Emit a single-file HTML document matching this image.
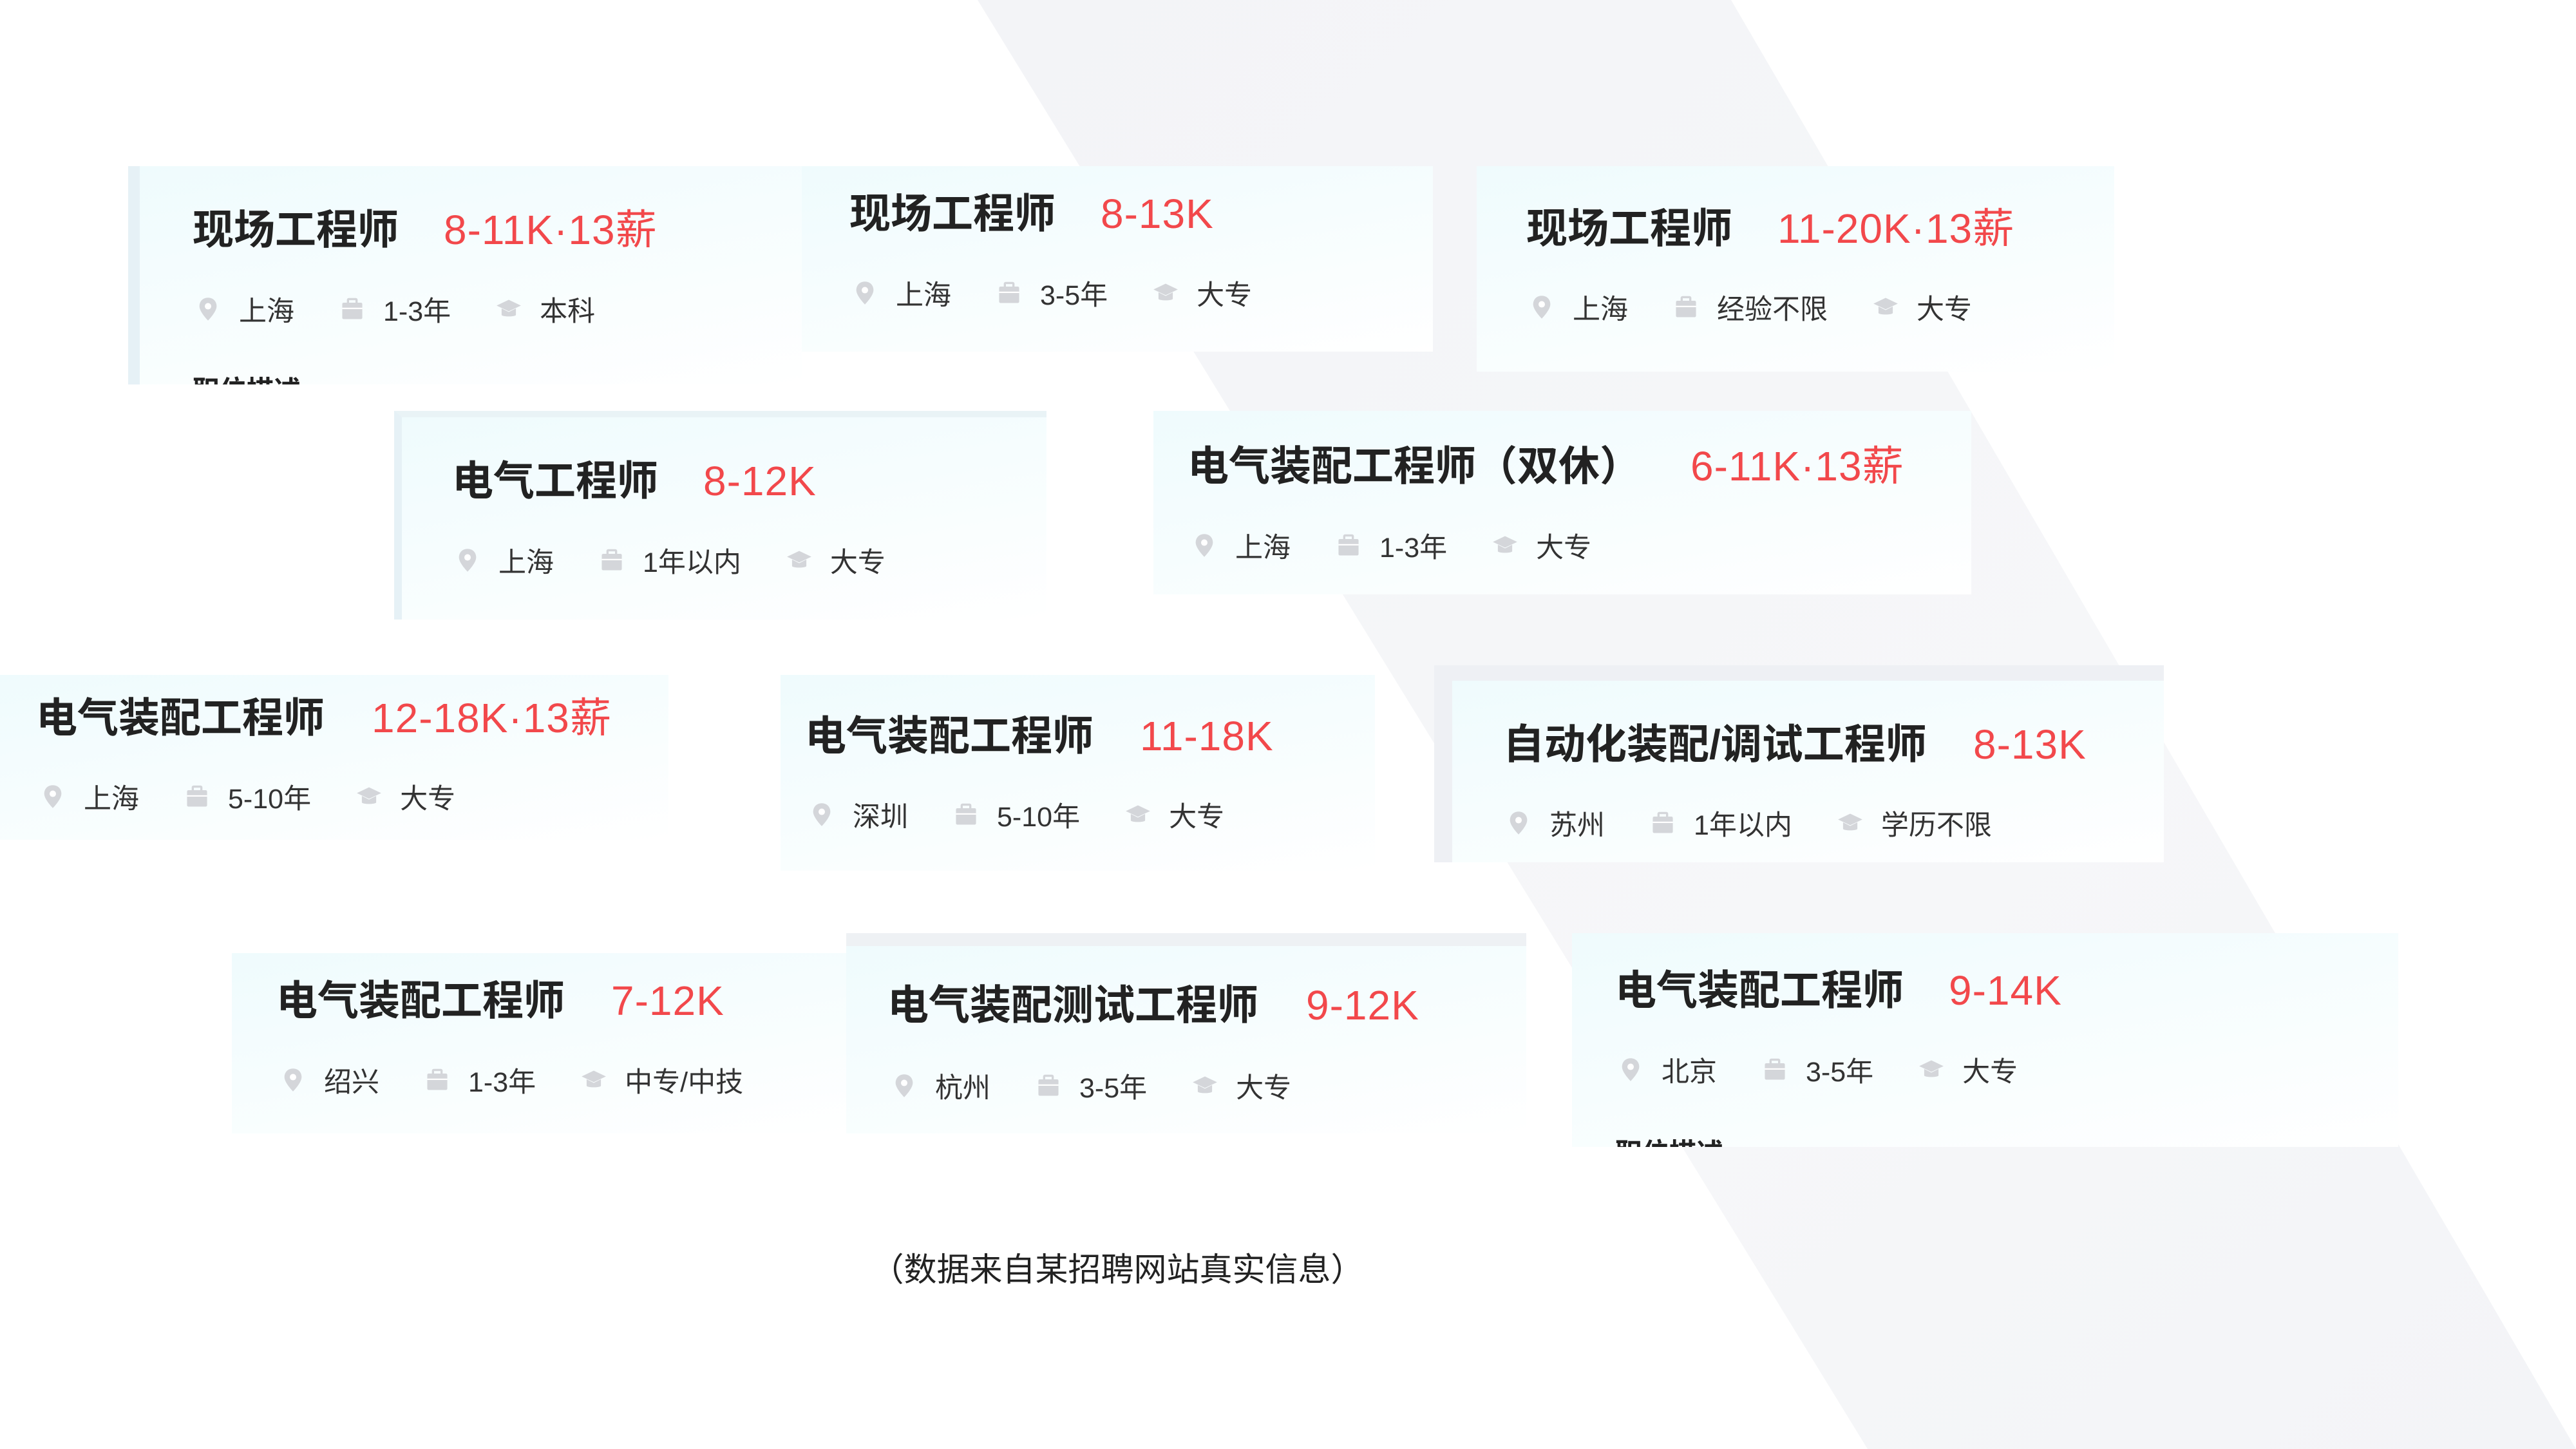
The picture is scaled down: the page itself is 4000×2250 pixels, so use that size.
<!DOCTYPE html>
<html><head><meta charset="utf-8">
<style>
*{margin:0;padding:0;box-sizing:border-box}
body{width:4000px;height:2250px;position:relative;overflow:hidden;background:#fff;font-family:"Liberation Sans","Noto Sans CJK SC",sans-serif}
.bg{position:absolute;left:0;top:0}
.card{position:absolute;background:linear-gradient(170deg,#effbfd 0%,#f6fdfe 45%,#fff 100%);overflow:hidden}
.t{position:absolute;white-space:nowrap;line-height:70px;height:70px}
.ti{font-weight:bold;font-size:64px;color:#222}
.sa{font-size:64px;color:#f2484b;letter-spacing:1px}
.m{position:absolute;display:flex;align-items:center;white-space:nowrap;font-size:43px;color:#333;height:50px}
.m span.i{display:inline-block;width:40px;height:40px;margin-right:28px}
.m span.i svg{width:40px;height:40px;display:block}
.m span.x{margin-right:70px}
.cut{position:absolute;font-size:42px;font-weight:bold;color:#222;white-space:nowrap}
</style></head><body>
<svg class="bg" width="4000" height="2250">
<defs>
<linearGradient id="g" x1="0" y1="0" x2="1" y2="1">
<stop offset="0" stop-color="#f3f4f7"/><stop offset="0.6" stop-color="#f6f7f9"/><stop offset="1" stop-color="#f3f4f7"/>
</linearGradient>
</defs>
<polygon points="1518,0 2688,0 4000,2250 2900,2250" fill="url(#g)"/>
</svg>

<svg width="0" height="0" style="position:absolute">
<defs>
<symbol id="pin" viewBox="0 0 36 36"><path d="M18 2c-7 0-12 5-12 12 0 8 12 20 12 20s12-12 12-20c0-7-5-12-12-12z" fill="#d4d6da"/><circle cx="18" cy="14" r="4.5" fill="#fff"/></symbol>
<symbol id="bag" viewBox="0 0 36 36"><rect x="4" y="9" width="28" height="23" rx="2" fill="#d4d6da"/><rect x="12" y="4" width="12" height="7" rx="1" fill="none" stroke="#d4d6da" stroke-width="3"/><rect x="4" y="16" width="28" height="2" fill="#fff"/></symbol>
<symbol id="cap" viewBox="0 0 36 36"><polygon points="18,5 35,13 18,21 1,13" fill="#d4d6da"/><path d="M8 17v9c0 3 20 3 20 0v-9l-10 5z" fill="#d4d6da"/></symbol>
</defs></svg>

<div class="card" style="left:199px;top:258px;width:1046px;height:339px;border-left:18px solid #e6f1f6"></div>
<div class="t ti" style="left:299px;top:322px">现场工程师</div>
<div class="t sa" style="left:689px;top:322px">8-11K·13薪</div>
<div class="m" style="left:303px;top:455px"><span class="i"><svg><use href="#pin"/></svg></span><span class="x">上海</span><span class="i"><svg><use href="#bag"/></svg></span><span class="x">1-3年</span><span class="i"><svg><use href="#cap"/></svg></span><span>本科</span></div>
<div class="cut" style="left:299px;top:582px;height:15px;overflow:hidden;line-height:50px">职位描述</div>

<div class="card" style="left:1245px;top:258px;width:980px;height:288px"></div>
<div class="t ti" style="left:1319px;top:297px">现场工程师</div>
<div class="t sa" style="left:1709px;top:297px">8-13K</div>
<div class="m" style="left:1323px;top:430px"><span class="i"><svg><use href="#pin"/></svg></span><span class="x">上海</span><span class="i"><svg><use href="#bag"/></svg></span><span class="x">3-5年</span><span class="i"><svg><use href="#cap"/></svg></span><span>大专</span></div>

<div class="card" style="left:2293px;top:258px;width:990px;height:319px"></div>
<div class="t ti" style="left:2370px;top:320px">现场工程师</div>
<div class="t sa" style="left:2760px;top:320px">11-20K·13薪</div>
<div class="m" style="left:2374px;top:452px"><span class="i"><svg><use href="#pin"/></svg></span><span class="x">上海</span><span class="i"><svg><use href="#bag"/></svg></span><span class="x">经验不限</span><span class="i"><svg><use href="#cap"/></svg></span><span>大专</span></div>

<div class="card" style="left:612px;top:638px;width:1013px;height:324px;border-left:12px solid #e6f1f6;border-top:10px solid #e9f3f6"></div>
<div class="t ti" style="left:702px;top:712px">电气工程师</div>
<div class="t sa" style="left:1092px;top:712px">8-12K</div>
<div class="m" style="left:706px;top:845px"><span class="i"><svg><use href="#pin"/></svg></span><span class="x">上海</span><span class="i"><svg><use href="#bag"/></svg></span><span class="x">1年以内</span><span class="i"><svg><use href="#cap"/></svg></span><span>大专</span></div>

<div class="card" style="left:1791px;top:638px;width:1270px;height:285px"></div>
<div class="t ti" style="left:1844px;top:689px">电气装配工程师（双休）</div>
<div class="t sa" style="left:2625px;top:689px">6-11K·13薪</div>
<div class="m" style="left:1850px;top:822px"><span class="i"><svg><use href="#pin"/></svg></span><span class="x">上海</span><span class="i"><svg><use href="#bag"/></svg></span><span class="x">1-3年</span><span class="i"><svg><use href="#cap"/></svg></span><span>大专</span></div>

<div class="card" style="left:0px;top:1048px;width:1038px;height:256px"></div>
<div class="t ti" style="left:56px;top:1080px">电气装配工程师</div>
<div class="t sa" style="left:577px;top:1080px">12-18K·13薪</div>
<div class="m" style="left:62px;top:1212px"><span class="i"><svg><use href="#pin"/></svg></span><span class="x">上海</span><span class="i"><svg><use href="#bag"/></svg></span><span class="x">5-10年</span><span class="i"><svg><use href="#cap"/></svg></span><span>大专</span></div>

<div class="card" style="left:1212px;top:1048px;width:923px;height:304px"></div>
<div class="t ti" style="left:1250px;top:1108px">电气装配工程师</div>
<div class="t sa" style="left:1770px;top:1108px">11-18K</div>
<div class="m" style="left:1256px;top:1240px"><span class="i"><svg><use href="#pin"/></svg></span><span class="x">深圳</span><span class="i"><svg><use href="#bag"/></svg></span><span class="x">5-10年</span><span class="i"><svg><use href="#cap"/></svg></span><span>大专</span></div>

<div class="card" style="left:2227px;top:1033px;width:1133px;height:306px;border-left:28px solid #eef0f4;border-top:24px solid #eef0f4"></div>
<div class="t ti" style="left:2334px;top:1121px">自动化装配/调试工程师</div>
<div class="t sa" style="left:3064px;top:1121px">8-13K</div>
<div class="m" style="left:2338px;top:1253px"><span class="i"><svg><use href="#pin"/></svg></span><span class="x">苏州</span><span class="i"><svg><use href="#bag"/></svg></span><span class="x">1年以内</span><span class="i"><svg><use href="#cap"/></svg></span><span>学历不限</span></div>

<div class="card" style="left:360px;top:1480px;width:954px;height:280px"></div>
<div class="t ti" style="left:429px;top:1519px">电气装配工程师</div>
<div class="t sa" style="left:949px;top:1519px">7-12K</div>
<div class="m" style="left:435px;top:1652px"><span class="i"><svg><use href="#pin"/></svg></span><span class="x">绍兴</span><span class="i"><svg><use href="#bag"/></svg></span><span class="x">1-3年</span><span class="i"><svg><use href="#cap"/></svg></span><span>中专/中技</span></div>

<div class="card" style="left:1314px;top:1449px;width:1056px;height:311px;border-top:20px solid #eef1f4"></div>
<div class="t ti" style="left:1378px;top:1526px">电气装配测试工程师</div>
<div class="t sa" style="left:2028px;top:1526px">9-12K</div>
<div class="m" style="left:1384px;top:1661px"><span class="i"><svg><use href="#pin"/></svg></span><span class="x">杭州</span><span class="i"><svg><use href="#bag"/></svg></span><span class="x">3-5年</span><span class="i"><svg><use href="#cap"/></svg></span><span>大专</span></div>

<div class="card" style="left:2441px;top:1449px;width:1283px;height:332px"></div>
<div class="t ti" style="left:2508px;top:1503px">电气装配工程师</div>
<div class="t sa" style="left:3026px;top:1503px">9-14K</div>
<div class="m" style="left:2512px;top:1636px"><span class="i"><svg><use href="#pin"/></svg></span><span class="x">北京</span><span class="i"><svg><use href="#bag"/></svg></span><span class="x">3-5年</span><span class="i"><svg><use href="#cap"/></svg></span><span>大专</span></div>
<div class="cut" style="left:2508px;top:1766px;height:15px;overflow:hidden;line-height:50px">职位描述</div>

<div style="position:absolute;left:0;width:3470px;top:1940px;text-align:center;font-size:51px;color:#222;line-height:64px">（数据来自某招聘网站真实信息）</div>
</body></html>
